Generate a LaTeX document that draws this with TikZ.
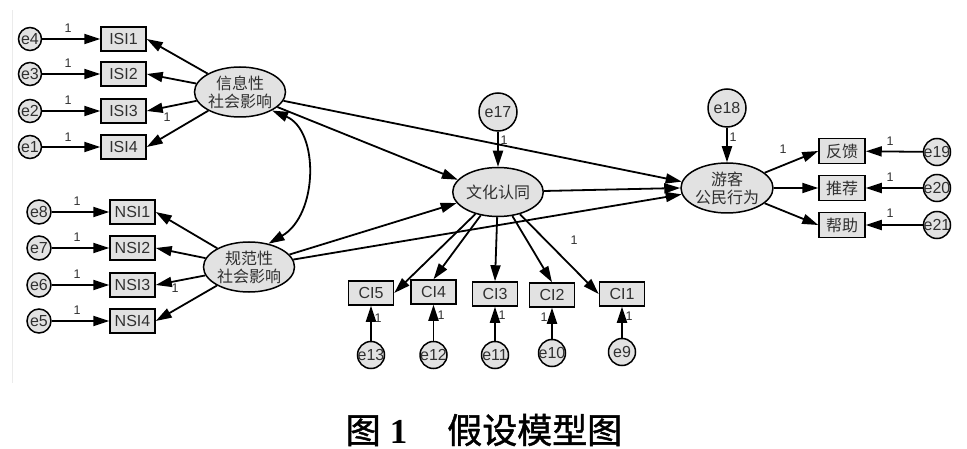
\documentclass[tikz,border=0pt]{standalone}
\usepackage{fontspec}
\setmainfont{Liberation Sans}
\newfontfamily\cjk{Noto Sans CJK SC}
\newfontfamily\cjkcap[FakeBold=1.3]{Noto Sans CJK SC}
\newfontfamily\serifb{Liberation Serif}
\usetikzlibrary{shapes.geometric,arrows.meta}
\definecolor{fillg}{HTML}{E2E2E2}
\definecolor{txt}{HTML}{303030}
\begin{document}
\begin{tikzpicture}[x=1pt,y=-1pt,
  conn/.style={draw, line width=1.8pt, -{Triangle[length=16pt,width=10pt]}},
  dconn/.style={draw, line width=1.8pt, {Triangle[length=16pt,width=10pt]}-{Triangle[length=16pt,width=10pt]}},
  err/.style={circle, draw, line width=1.5pt, fill=fillg, inner sep=0pt, minimum size=#1, text=txt, font=\fontsize{16}{16}\selectfont},
  obs/.style={rectangle, draw, line width=1.5pt, fill=fillg, minimum width=45pt, minimum height=24pt, inner sep=0pt, text=txt, font=\fontsize{16}{16}\selectfont},
  cobs/.style={obs, minimum width=46pt, minimum height=25pt, font=\cjk\fontsize{16}{16}\selectfont},
  lat/.style={ellipse, draw, line width=1.5pt, fill=fillg, minimum width=91pt, minimum height=50pt, inner sep=0pt, text=txt, align=center, font=\cjk\fontsize{16}{18}\selectfont},
  one/.style={text=txt, font=\fontsize{12.5}{12.5}\selectfont, inner sep=0pt},
]
\useasboundingbox (0,0) rectangle (967,449);
\draw[black!8, line width=0.8pt] (12,10) -- (12,383);

% left error terms and ISI boxes
\node[err=23pt] (e4) at (30,39) {\makebox[0pt]{e4}};
\node[err=23pt] (e3) at (30,74) {\makebox[0pt]{e3}};
\node[err=23pt] (e2) at (30,111) {\makebox[0pt]{e2}};
\node[err=23pt] (e1) at (30,147) {\makebox[0pt]{e1}};
\node[obs] (isi1) at (123.5,39) {ISI1};
\node[obs] (isi2) at (123.5,74) {ISI2};
\node[obs] (isi3) at (123.5,111) {ISI3};
\node[obs] (isi4) at (123.5,147) {ISI4};

\node[err=24pt] (e8) at (39,212) {\makebox[0pt]{e8}};
\node[err=24pt] (e7) at (39,248) {\makebox[0pt]{e7}};
\node[err=24pt] (e6) at (39,285) {\makebox[0pt]{e6}};
\node[err=24pt] (e5) at (39,321) {\makebox[0pt]{e5}};
\node[obs] (nsi1) at (132.5,212) {NSI1};
\node[obs] (nsi2) at (132.5,248) {NSI2};
\node[obs] (nsi3) at (132.5,285) {NSI3};
\node[obs] (nsi4) at (132.5,321) {NSI4};

% latent variables
\node[lat] (isi) at (240,92) {信息性\\社会影响};
\node[lat] (nsi) at (249,267) {规范性\\社会影响};
\node[lat, minimum width=90pt, minimum height=49pt] (wh) at (498,192) {文化认同};
\node[lat, minimum width=92pt] (yk) at (727,188) {游客\\公民行为};

% disturbances
\node[err=38pt] (e17) at (498,112) {e17};
\node[err=38pt] (e18) at (727,108) {e18};

% CI boxes and errors
\node[obs] (ci5) at (371,293) {CI5};
\node[obs] (ci4) at (433.5,292) {CI4};
\node[obs] (ci3) at (495,294) {CI3};
\node[obs] (ci2) at (552,295) {CI2};
\node[obs] (ci1) at (622,294) {CI1};
\node[err=27pt] (e13) at (371,355) {\makebox[0pt]{e13}};
\node[err=27pt] (e12) at (433.5,355) {\makebox[0pt]{e12}};
\node[err=27pt] (e11) at (495,355) {\makebox[0pt]{e11}};
\node[err=27pt] (e10) at (552,353) {\makebox[0pt]{e10}};
\node[err=27pt] (e9) at (622,352) {\makebox[0pt]{e9}};

% right boxes and errors
\node[cobs] (fk) at (842,151) {反馈};
\node[cobs] (tj) at (842,188) {推荐};
\node[cobs] (bz) at (842,225) {帮助};
\node[err=27pt] (e19) at (937,152) {\makebox[0pt]{e19}};
\node[err=27pt] (e20) at (937,188) {\makebox[0pt]{e20}};
\node[err=27pt] (e21) at (937,225) {\makebox[0pt]{e21}};

% connectors: left
\draw[conn] (e4) -- (isi1);
\draw[conn] (e3) -- (isi2);
\draw[conn] (e2) -- (isi3);
\draw[conn] (e1) -- (isi4);
\draw[conn] (e8) -- (nsi1);
\draw[conn] (e7) -- (nsi2);
\draw[conn] (e6) -- (nsi3);
\draw[conn] (e5) -- (nsi4);
\draw[conn] (isi) -- (isi1.east);
\draw[conn] (isi) -- (isi2.east);
\draw[conn] (isi) -- (isi3.east);
\draw[conn] (isi) -- (isi4.east);
\draw[conn] (nsi) -- (nsi1.east);
\draw[conn] (nsi) -- (nsi2.east);
\draw[conn] (nsi) -- (nsi3.east);
\draw[conn] (nsi) -- (nsi4.east);
\draw[dconn] (isi.-30) .. controls +(47,20) and +(50,-29) .. (nsi.50);

% structural paths
\draw[conn] (isi) -- (wh.163);
\draw[conn] (nsi) -- (wh.195);
\draw[conn] (isi) -- (yk.172);
\draw[conn] (nsi) -- (yk.188);
\draw[conn] (wh) -- (yk.west);
\draw[conn] (e17) -- (wh);
\draw[conn] (e18) -- (yk);

% CI paths
\draw[conn] (wh) -- (ci5.east);
\draw[conn] (wh) -- (ci4.north);
\draw[conn] (wh) -- (ci3.north);
\draw[conn] (wh) -- (ci2.north);
\draw[conn] (wh) -- (ci1.west);
\draw[conn] (e13) -- (ci5);
\draw[conn] (e12) -- (ci4);
\draw[conn] (e11) -- (ci3);
\draw[conn] (e10) -- (ci2);
\draw[conn] (e9) -- (ci1);

% right paths
\draw[conn] (yk) -- (fk.west);
\draw[conn] (yk) -- (tj.west);
\draw[conn] (yk) -- (bz.west);
\draw[conn] (e19) -- (fk);
\draw[conn] (e20) -- (tj);
\draw[conn] (e21) -- (bz);

% labels "1"
\node[one] (l1) at (68,28) {1};
\node[one] (l2) at (68,63) {1};
\node[one] (l3) at (68,100) {1};
\node[one] (l4) at (68,137) {1};
\node[one] (l5) at (77,201) {1};
\node[one] (l6) at (77,237) {1};
\node[one] (l7) at (77,274) {1};
\node[one] (l8) at (77,310) {1};
\node[one] (l9) at (167,117) {1};
\node[one] (l10) at (175,288) {1};
\node[one] (l11) at (504,140) {1};
\node[one] (l12) at (733,137) {1};
\node[one] (l13) at (574,240) {1};
\node[one] (l14) at (378,318) {1};
\node[one] (l15) at (441,315) {1};
\node[one] (l16) at (502,315) {1};
\node[one] (l17) at (544,317) {1};
\node[one] (l18) at (629,316) {1};
\node[one] (l19) at (783,149) {1};
\node[one] (l20) at (890,141) {1};
\node[one] (l21) at (890,177) {1};
\node[one] (l22) at (890,213) {1};

% caption
\node[inner sep=0pt] (cap) at (484,430) {\fontsize{35}{35}\selectfont{\cjkcap 图}\hspace{9pt}{\serifb\bfseries 1}\hspace{40pt}{\cjkcap 假设模型图}};
\end{tikzpicture}
\end{document}
